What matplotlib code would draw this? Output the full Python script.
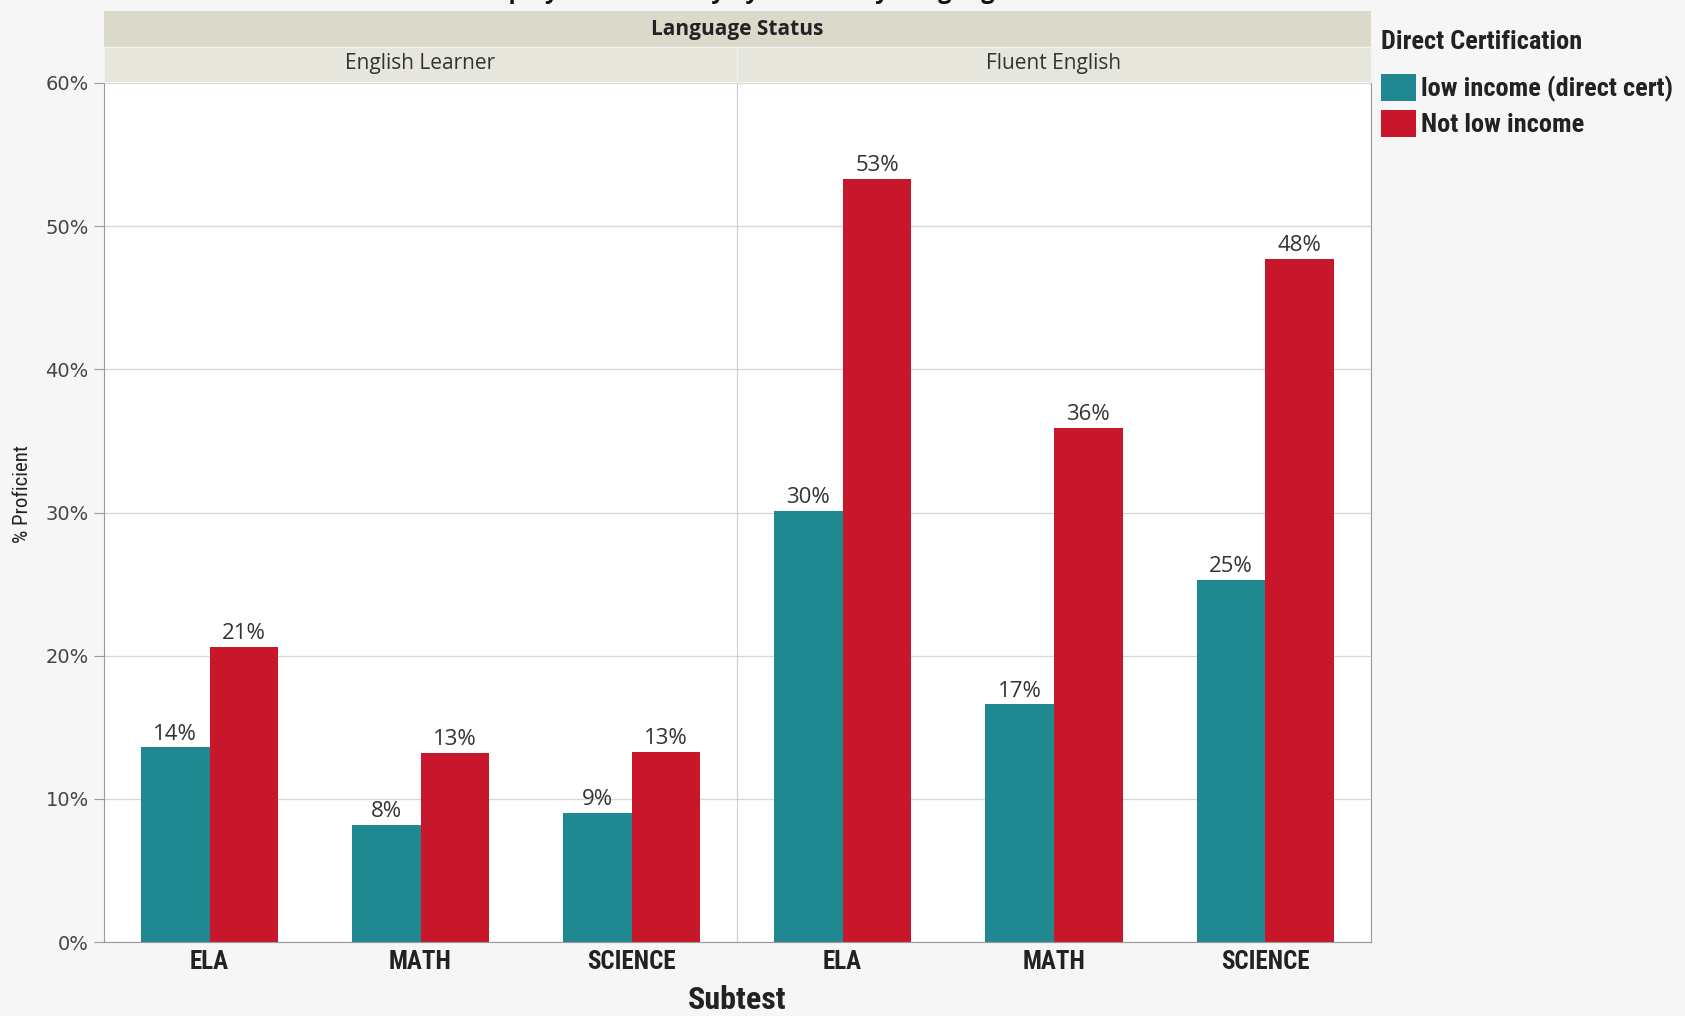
import matplotlib
matplotlib.use("Agg")
import matplotlib.pyplot as plt
from matplotlib.patches import Patch, Rectangle

# ---- data -------------------------------------------------------------
language_status = ["English Learner", "Fluent English"]
subtests = ["ELA", "MATH", "SCIENCE"]
income_groups = ["low income (direct cert)", "Not low income"]

el_low_income = [13.6, 8.2, 9.0]
el_not_low_income = [20.6, 13.2, 13.3]
fe_low_income = [30.1, 16.6, 25.3]
fe_not_low_income = [53.3, 35.9, 47.7]

y_ticks = [0, 10, 20, 30, 40, 50, 60]

# ---- style ------------------------------------------------------------
TEAL = "#1f8890"
RED = "#c8172a"
BG = "#f6f6f6"
NARROW = ["Roboto Condensed", "Roboto", "DejaVu Sans"]
UI = ["Open Sans", "DejaVu Sans"]

W, H = 1685, 1016
fig = plt.figure(figsize=(W / 100, H / 100), dpi=100, facecolor=BG)


def fx(px):
    return px / W


def fy(py):
    return 1 - py / H


left, mid, right = 104, 737, 1371
top, bottom = 83, 942

panels = [
    (language_status[0], el_low_income, el_not_low_income, left, mid),
    (language_status[1], fe_low_income, fe_not_low_income, mid, right),
]

bar_w = 0.325
axes = []
for i, (name, low, not_low, x0, x1) in enumerate(panels):
    ax = fig.add_axes([fx(x0), fy(bottom), fx(x1 - x0), (bottom - top) / H])
    ax.set_facecolor("white")
    ax.set_xlim(0, len(subtests))
    ax.set_ylim(0, 60)
    ax.set_yticks(y_ticks)
    ax.yaxis.grid(True, color="#d8d8d8", lw=1.0)
    ax.set_axisbelow(True)
    centers = [k + 0.5 for k in range(len(subtests))]
    b1 = ax.bar([c - bar_w / 2 for c in centers], low, width=bar_w,
                color=TEAL, edgecolor="none")
    b2 = ax.bar([c + bar_w / 2 for c in centers], not_low, width=bar_w,
                color=RED, edgecolor="none")
    for bars, vals in ((b1, low), (b2, not_low)):
        for rect, v in zip(bars, vals):
            ax.annotate(f"{round(v):.0f}%",
                        (rect.get_x() + rect.get_width() / 2, v),
                        xytext=(0, 2), textcoords="offset points",
                        ha="center", va="bottom", fontsize=16,
                        family=UI, color="#333333")
    ax.set_xticks(centers)
    ax.set_xticklabels(subtests, family=NARROW, fontweight="bold",
                       fontsize=18, color="#222222")
    ax.tick_params(axis="x", length=0, pad=6)
    ax.spines["top"].set_visible(False)
    ax.spines["bottom"].set_color("#9a9a9a")
    ax.spines["left"].set_color("#9a9a9a" if i == 0 else "#d0d0d0")
    ax.spines["right"].set_color("#d0d0d0" if i == 0 else "#9a9a9a")
    if i == 0:
        ax.set_yticklabels([f"{t}%" for t in y_ticks], family="DejaVu Sans",
                           fontsize=14, color="#444444")
        ax.tick_params(axis="y", length=7, color="#9a9a9a", pad=4)
    else:
        ax.tick_params(axis="y", length=0, labelleft=False)
    axes.append(ax)

# ---- facet strips -----------------------------------------------------
fig.patches.append(Rectangle((fx(left), fy(47)), fx(right - left), (47 - 11) / H,
                             transform=fig.transFigure, facecolor="#dad9ca",
                             edgecolor="none"))
fig.text(fx((left + right) / 2), fy(29), "Language Status", ha="center",
         va="center", family=UI, fontweight="bold", fontsize=15, color="#222222")
for name, _, _, x0, x1 in panels:
    fig.patches.append(Rectangle((fx(x0), fy(82)), fx(x1 - x0), (82 - 47) / H,
                                 transform=fig.transFigure, facecolor="#e7e6dc",
                                 edgecolor="#f4f4ef", lw=1))
    fig.text(fx((x0 + x1) / 2), fy(64), name, ha="center", va="center",
             family=UI, fontsize=15, color="#333333")

# ---- axis titles ------------------------------------------------------
fig.text(fx(737), fy(1000), "Subtest", ha="center", va="center",
         family=NARROW, fontweight="bold", fontsize=23, color="#222222")
fig.text(fx(22), fy(494), "% Proficient", rotation=90, ha="center",
         va="center", family=NARROW, fontsize=15, color="#222222")

# title sits above the strips, mostly beyond the top edge
fig.text(fx(740), 1 + 2 / H, "Display of Proficiency by Subtest by Language",
         ha="center", va="baseline", family=UI, fontweight="bold",
         fontsize=17, color="#111111")

# ---- legend -----------------------------------------------------------
fig.text(fx(1381), fy(42), "Direct Certification", ha="left", va="center",
         family=NARROW, fontweight="bold", fontsize=19, color="#222222")
handles = [Patch(facecolor=TEAL, edgecolor="none", label=income_groups[0]),
           Patch(facecolor=RED, edgecolor="none", label=income_groups[1])]
leg = fig.legend(handles=handles, loc="upper left",
                 bbox_to_anchor=(fx(1373), fy(66)),
                 frameon=False, handlelength=1.33, handleheight=1.2,
                 handletextpad=0.2, labelspacing=0.28, borderaxespad=0,
                 borderpad=0.3,
                 prop=dict(family=NARROW, weight="bold", size=19))
for t in leg.get_texts():
    t.set_color("#222222")

fig.savefig("out.png", dpi=100, facecolor=BG)
